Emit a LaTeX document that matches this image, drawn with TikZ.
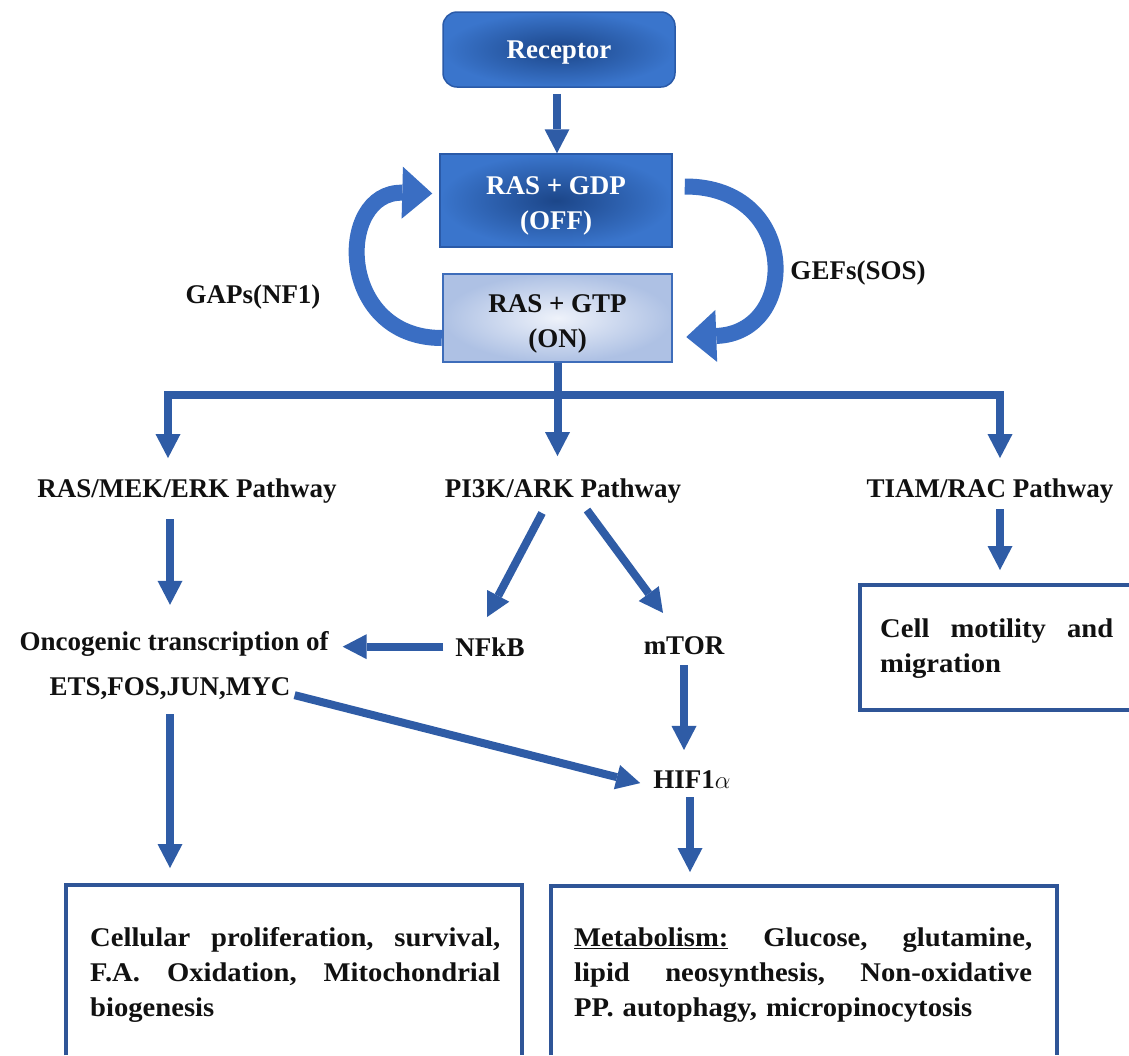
\documentclass[tikz,border=0pt]{standalone}
\usepackage{fontspec}
\setmainfont{Liberation Serif}
\newfontfamily\widefont{Liberation Serif}[FakeStretch=1.06]
\usetikzlibrary{arrows.meta}
\definecolor{arrc}{HTML}{2F5CA6}
\definecolor{boxc}{HTML}{2F5597}
\definecolor{darkin}{HTML}{1C4689}
\definecolor{darkout}{HTML}{3A75CC}
\definecolor{darkedge}{HTML}{2A5AA8}
\definecolor{lightin}{HTML}{EEF2FA}
\definecolor{lightout}{HTML}{AEC1E4}
\definecolor{lightedge}{HTML}{3E6DBA}
\definecolor{arcc}{HTML}{3A6EC3}
\definecolor{txt}{HTML}{111111}
\newcommand{\firstline}{\rule{0pt}{29pt}}
\begin{document}
\begin{tikzpicture}[x=1pt,y=-1pt,
  lbl/.style={inner sep=0pt, font=\fontsize{27}{35}\selectfont\bfseries, text=txt},
  boxtext/.style={inner sep=0pt, font=\widefont\fontsize{27}{35}\selectfont\bfseries, text=txt, align=left},
  arr/.style={draw=arrc, line width=8pt, -{Triangle[width=25pt,length=24pt,line width=0pt]}},
  plainline/.style={draw=arrc, line width=8pt},
  arcarr/.style={draw=arcc, line width=16pt, -{Triangle[width=52pt,length=30pt,line width=0pt]}},
  darkbox/.style={draw=darkedge, line width=1.5pt, inner color=darkin, outer color=darkout,
    text=white, font=\fontsize{27}{35}\selectfont\bfseries, align=center},
  lightbox/.style={draw=lightedge, line width=2.5pt, inner color=lightin, outer color=lightout,
    text=txt, font=\fontsize{27}{35}\selectfont\bfseries, align=center},
  holder/.style={inner sep=0pt, draw=none},
  boxline/.style={draw=boxc, line width=4pt}
]
\fill[white] (0,0) rectangle (1129,1055);
\useasboundingbox (0,0) rectangle (1129,1055);

% top boxes
\node[darkbox, rounded corners=14pt, minimum width=232pt, minimum height=75pt] (rec) at (559,49.5) {\rule{0pt}{24pt}Receptor};
\node[darkbox, minimum width=232pt, minimum height=93pt] (gdp) at (556,200.5) {\firstline RAS + GDP\\(OFF)};
\node[lightbox, minimum width=229pt, minimum height=88pt] (gtp) at (557.5,318) {\firstline RAS + GTP\\(ON)};

% side labels
\node[lbl, anchor=base] (gaps) at (253,303) {GAPs(NF1)};
\node[lbl, anchor=base] (gefs) at (858,279) {GEFs(SOS)};

% pathway labels
\node[lbl, anchor=base] (ras) at (187,497) {RAS/MEK/ERK Pathway};
\node[lbl, anchor=base] (pi3k) at (563,497) {PI3K/ARK Pathway};
\node[lbl, anchor=base] (tiam) at (990,497) {TIAM/RAC Pathway};
\node[lbl, anchor=base] (onco) at (174,650) {Oncogenic transcription of};
\node[lbl, anchor=base] (ets) at (170,695) {ETS,FOS,JUN,MYC};
\node[lbl, anchor=base] (nfkb) at (490,656) {NFkB};
\node[lbl, anchor=base] (mtor) at (684,654) {mTOR};
\node[lbl, anchor=base] (hif) at (692,788) {HIF1$\alpha$};

% result boxes
\node[holder, minimum width=272pt, minimum height=125pt, anchor=north west] (cbox) at (860,585) {};
\draw[boxline] (cbox.north east) -- (cbox.north west) -- (cbox.south west) -- (cbox.south east);
\node[boxtext, text width=233pt, anchor=base west] (ctext) at (880,637)
  {\makebox[233pt]{Cell\hfill motility\hfill and}\\migration};

\node[holder, minimum width=456pt, minimum height=170pt, anchor=north west] (lbox) at (66,885) {};
\draw[boxline] (lbox.south west) -- (lbox.north west) -- (lbox.north east) -- (lbox.south east);
\node[boxtext, text width=410pt, anchor=base west] (ltext) at (90,946)
  {\makebox[410pt]{Cellular\hfill proliferation,\hfill survival,}\\\makebox[410pt]{F.A.\hfill Oxidation,\hfill Mitochondrial}\\biogenesis};

\node[holder, minimum width=506pt, minimum height=169pt, anchor=north west] (rbox) at (551,886) {};
\draw[boxline] (rbox.south west) -- (rbox.north west) -- (rbox.north east) -- (rbox.south east);
\node[boxtext, text width=458pt, anchor=base west] (rtext) at (574,946)
  {\makebox[458pt]{\underline{Metabolism:}\hfill Glucose,\hfill glutamine,}\\\makebox[458pt]{lipid\hfill neosynthesis,\hfill Non-oxidative}\\PP. autophagy, micropinocytosis};

% connectors
\draw[arr, shorten <=6pt] ([xshift=-2pt]rec.south) -- ([xshift=1pt]gdp.north);

\draw[arcarr] ([yshift=-20pt]gtp.west) .. controls (336,338) and (336,191) .. ([xshift=-7pt,yshift=7pt]gdp.west);
\draw[arcarr] ([xshift=12pt,yshift=14pt]gdp.east) .. controls (800,186) and (800,333) .. ([xshift=13pt,yshift=-19pt]gtp.east);

\coordinate (split) at ([yshift=-32pt]gtp.south);
\draw[plainline] (gtp.south) -- ([yshift=-4pt]split);
\draw[arr] ([xshift=4pt]split) -| ([xshift=-19pt,yshift=20pt]ras.north);
\draw[arr] ([xshift=-4pt]split) -| ([xshift=10pt,yshift=20pt]tiam.north);
\draw[arr, shorten >=22pt] (split) -- (split |- pi3k.north);

\draw[arr] ([xshift=-17pt,yshift=-16pt]ras.south) -- ([xshift=-4pt,yshift=26pt]onco.north);
\draw[arr] ([xshift=-21pt,yshift=-10pt]pi3k.south) -- ([xshift=-3pt,yshift=20pt]nfkb.north);
\draw[arr] ([xshift=24pt,yshift=-7pt]pi3k.south) -- ([xshift=-21pt,yshift=23pt]mtor.north);
\draw[arr, shorten <=12pt, shorten >=14pt] (nfkb.west) -- (nfkb.west -| onco.east);
\draw[arr, shorten <=11pt, shorten >=20pt] (mtor.south) -- (mtor.south |- hif.north);
\draw[arr] ([xshift=4pt,yshift=-7pt]ets.east) -- ([xshift=-13pt,yshift=-4pt]hif.west);
\draw[arr, shorten <=15pt, shorten >=17pt] (ets.south) -- (ets.south |- lbox.north);
\draw[arr, shorten <=9pt, shorten >=14pt] ([xshift=-2pt]hif.south) -- ([xshift=-2pt]hif.south |- rbox.north);
\draw[arr, shorten <=6pt, shorten >=15pt] ([xshift=10pt]tiam.south) -- ([xshift=10pt]tiam.south |- cbox.north);
\end{tikzpicture}
\end{document}
